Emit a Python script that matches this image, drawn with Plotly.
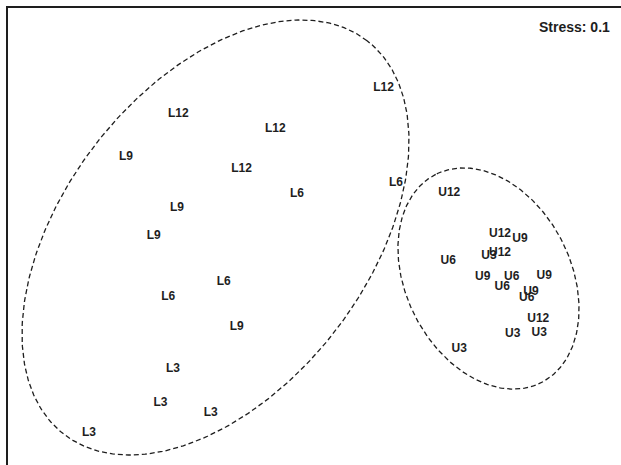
import numpy as np
import plotly.graph_objects as go

# NMDS site scores (label, NMDS1, NMDS2)
l_labels = ["L12", "L12", "L12", "L9", "L12", "L6", "L6", "L9",
            "L9", "L6", "L6", "L9", "L3", "L3", "L3", "L3"]
l_nmds1 = [0.278, -0.543, -0.155, -0.752, -0.290, 0.328, -0.068, -0.548,
           -0.641, -0.361, -0.583, -0.309, -0.564, -0.614, -0.413, -0.900]
l_nmds2 = [0.591, 0.487, 0.427, 0.317, 0.267, 0.211, 0.167, 0.113,
           0.001, -0.183, -0.245, -0.363, -0.533, -0.669, -0.707, -0.789]

u_labels = ["U12", "U12", "U9", "U3", "U12", "U6", "U9", "U6",
            "U9", "U6", "U9", "U6", "U12", "U3", "U3", "U3"]
u_nmds1 = [0.541, 0.744, 0.824, 0.700, 0.744, 0.537, 0.675, 0.791,
           0.921, 0.753, 0.868, 0.851, 0.897, 0.795, 0.901, 0.581]
u_nmds2 = [0.171, 0.007, -0.013, -0.080, -0.069, -0.099, -0.163, -0.163,
           -0.159, -0.203, -0.223, -0.249, -0.333, -0.393, -0.387, -0.452]

# Group ellipses: centre x, centre y, semi-major, semi-minor, angle (deg)
ell_cx = [-0.394, 0.698]
ell_cy = [-0.006, -0.170]
ell_a = [0.9935, 0.467]
ell_b = [0.6075, 0.330]
ell_theta = [52.4, 116.9]

stress_text = "Stress: 0.1"

FONT = "Liberation Sans, Arial, Helvetica, sans-serif"
INK = "#1e1e1e"

fig = go.Figure()

t = np.linspace(0, 2 * np.pi, 400)
for cx, cy, a, b, th in zip(ell_cx, ell_cy, ell_a, ell_b, ell_theta):
    r = np.deg2rad(th)
    ex = cx + a * np.cos(t) * np.cos(r) - b * np.sin(t) * np.sin(r)
    ey = cy + a * np.cos(t) * np.sin(r) + b * np.sin(t) * np.cos(r)
    fig.add_trace(go.Scatter(x=ex, y=ey, mode="lines",
                             line=dict(color=INK, width=1.3, dash="5px,3px"),
                             hoverinfo="skip", showlegend=False))

for labs, xs, ys in [(l_labels, l_nmds1, l_nmds2), (u_labels, u_nmds1, u_nmds2)]:
    fig.add_trace(go.Scatter(x=xs, y=ys, mode="text", text=labs,
                             textposition="middle center",
                             textfont=dict(family=FONT, size=12, color=INK, weight="bold"),
                             showlegend=False))

fig.add_shape(type="rect", xref="paper", yref="paper",
              x0=0, x1=1.05, y0=-0.05, y1=1,
              line=dict(color=INK, width=2))

fig.add_annotation(text="<b>" + stress_text + "</b>", xref="paper", yref="paper",
                   x=(612 - 7) / 614, y=(465 - 27.5) / 458,
                   xanchor="right", yanchor="middle", showarrow=False,
                   font=dict(family=FONT, size=14, color=INK))

axis_common = dict(showgrid=False, zeroline=False, showticklabels=False,
                   ticks="", showline=False, fixedrange=True)
fig.update_layout(
    width=621, height=465,
    margin=dict(l=7, r=0, t=7, b=0),
    paper_bgcolor="white", plot_bgcolor="white",
    xaxis=dict(range=[-1.228, 1.228], **axis_common),
    yaxis=dict(range=[-0.916, 0.916], **axis_common),
    showlegend=False,
)

fig.write_html("out.html",
               config={"displayModeBar": False},
               post_script="document.body.style.margin='0';document.body.style.overflow='hidden';")
